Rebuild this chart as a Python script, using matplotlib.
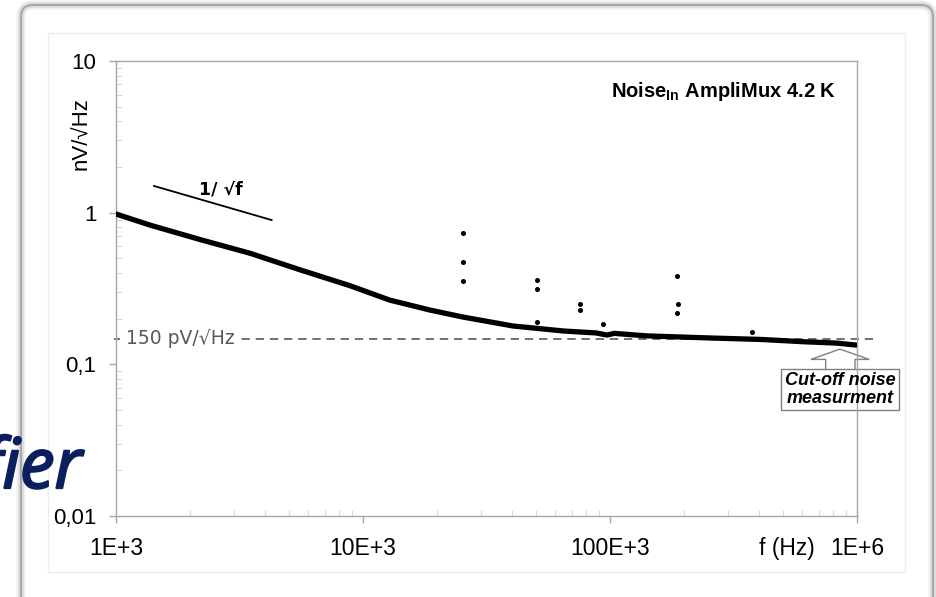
import matplotlib
matplotlib.use("Agg")
from matplotlib import pyplot as plt
from matplotlib import patches, transforms, patheffects
from matplotlib.ticker import FixedLocator, NullFormatter

freq_hz = [1000, 1373, 2188, 3487, 5558, 8855, 12850, 18660, 25400, 40460,
           64500, 88000, 97200, 104000, 141000, 261000, 405000, 604000, 830000, 991000]
noise_nv = [0.98, 0.828, 0.665, 0.54, 0.42, 0.33, 0.265, 0.228, 0.205, 0.179,
            0.166, 0.161, 0.156, 0.160, 0.154, 0.149, 0.146, 0.141, 0.138, 0.134]

# isolated spurious points above the curve
spike_freq_hz = [25400, 25300, 25500, 50650, 50650, 50800, 75840, 75840,
                 94000, 187300, 188500, 186500, 376000]
spike_noise_nv = [0.737, 0.475, 0.356, 0.358, 0.312, 0.189, 0.251, 0.228,
                  0.185, 0.382, 0.249, 0.217, 0.163]

# 1/sqrt(f) guide segment
slope_freq_hz = [1425, 4266]
slope_noise_nv = [1.50, 0.894]

# white noise floor
floor_noise_nv = 0.147
floor_span_hz = [980, 1.16e6]

# tip of the cut-off callout
cutoff_freq_hz = 853000
cutoff_noise_nv = 0.126

x_ticks = [1e3, 1e4, 1e5, 1e6]
x_tick_labels = ["1E+3", "10E+3", "100E+3", "1E+6"]
y_ticks = [0.01, 0.1, 1, 10]
y_tick_labels = ["0,01", "0,1", "1", "10"]

plt.rcParams["font.family"] = ["Liberation Sans", "DejaVu Sans"]
plt.rcParams["mathtext.fontset"] = "custom"
plt.rcParams["mathtext.bf"] = "Liberation Sans:bold"
plt.rcParams["mathtext.rm"] = "Liberation Sans"

W, H = 937, 597
fig = plt.figure(figsize=(W / 100, H / 100), dpi=100)
fig.patch.set_facecolor("white")

# slide frame behind the chart
for lw, col, a in [(7, "#9a9a9a", 0.12), (4, "#9a9a9a", 0.25), (1.5, "#a8a8a8", 1.0)]:
    fig.patches.append(patches.FancyBboxPatch(
        (0.21, -0.25), 9.12, 6.17, boxstyle="round,pad=0,rounding_size=0.12",
        transform=fig.dpi_scale_trans, fill=False, edgecolor=col, lw=lw, alpha=a))
fig.patches.append(patches.Rectangle(
    (0.48, (H - 572) / 100), 8.57, 5.39, transform=fig.dpi_scale_trans,
    fill=False, edgecolor="#eeeeee", lw=1))

ax = fig.add_axes([116 / W, (H - 516) / H, (857 - 116) / W, (516 - 61) / H])
ax.set_xscale("log")
ax.set_yscale("log")
ax.set_xlim(1e3, 1e6)
ax.set_ylim(0.01, 10)

for s in ax.spines.values():
    s.set_color("#a6a6a6")
    s.set_linewidth(1)

ax.xaxis.set_major_locator(FixedLocator(x_ticks))
ax.set_xticklabels(x_tick_labels)
ax.yaxis.set_major_locator(FixedLocator(y_ticks))
ax.set_yticklabels(y_tick_labels)
ax.xaxis.set_minor_formatter(NullFormatter())
ax.yaxis.set_minor_formatter(NullFormatter())
ax.tick_params(which="major", direction="out", length=5, width=1, color="#a6a6a6",
               labelcolor="black")
ax.tick_params(axis="x", which="major", pad=10, labelsize=16.5)
ax.tick_params(axis="y", which="major", pad=9, labelsize=16)
ax.tick_params(which="minor", direction="in", length=4.5, width=0.8, color="#d9d9d9")

ax.plot(freq_hz, noise_nv, color="black", lw=3.8, solid_capstyle="round",
        solid_joinstyle="round", zorder=3)
ax.plot(spike_freq_hz, spike_noise_nv, "o", color="black", ms=2.6, zorder=3)
ax.plot(slope_freq_hz, slope_noise_nv, color="black", lw=1.3)
ax.text(0.1417, 0.7055, "1/ \u221af", transform=ax.transAxes, ha="center",
        va="baseline", fontsize=12.5, fontweight="bold", family="DejaVu Sans")

ax.plot(floor_span_hz, [floor_noise_nv] * 2, color="#595959", lw=1.2,
        dashes=(5, 3.5), clip_on=False, zorder=2)
ax.text(1098, floor_noise_nv, "150 pV/\u221aHz", ha="left", va="center",
        fontsize=13.5, color="#595959", family="DejaVu Sans", zorder=2.5,
        bbox=dict(boxstyle="square,pad=0.3", fc="white", ec="none"))

ax.text(0.9717, 0.9209, r"Noise$_{\mathbf{In}}$ AmpliMux 4.2 K", transform=ax.transAxes,
        ha="right", va="baseline", fontsize=14.5, fontweight="bold")

ax.text(-0.046, 0.84, "nV/\u221aHz", transform=ax.transAxes, rotation=90,
        ha="center", va="center", fontsize=16)
ax.text(521000, -0.0725, "f (Hz)", transform=ax.get_xaxis_transform(),
        ha="center", va="center", fontsize=16.5)

# callout drawn in pixel offsets around the cut-off point
tr = fig.dpi_scale_trans + transforms.ScaledTranslation(cutoff_freq_hz, cutoff_noise_nv, ax.transData)
arrow_px = [(15, -20.3), (15, -10.3), (29.3, -10.3), (0, 0), (-29, -10.3), (-14.3, -10.3), (-14.3, -20.3)]
ax.add_patch(patches.Polygon([(x / 100, y / 100) for x, y in arrow_px], closed=False,
                             fill=False, edgecolor="#7f7f7f", lw=1, transform=tr, clip_on=False))
ax.add_patch(patches.Rectangle((-0.59, -0.61), 1.18, 0.41, fill=False, edgecolor="#7f7f7f",
                               lw=1, transform=tr, clip_on=False))
ax.text(0, -0.405, "Cut-off noise\nmeasurment", transform=tr, ha="center", va="center",
        fontsize=13, fontweight="bold", fontstyle="italic", linespacing=1.1, clip_on=False)

# leftover of the slide title
fig.text(82 / W, (H - 488) / H, "fier", ha="right", va="baseline", fontsize=50,
         fontstyle="italic", family="Open Sans", color="#0b1f5e", zorder=10,
         path_effects=[patheffects.withStroke(linewidth=1.6, foreground="#0b1f5e")])

fig.savefig("out.png", dpi=100)
